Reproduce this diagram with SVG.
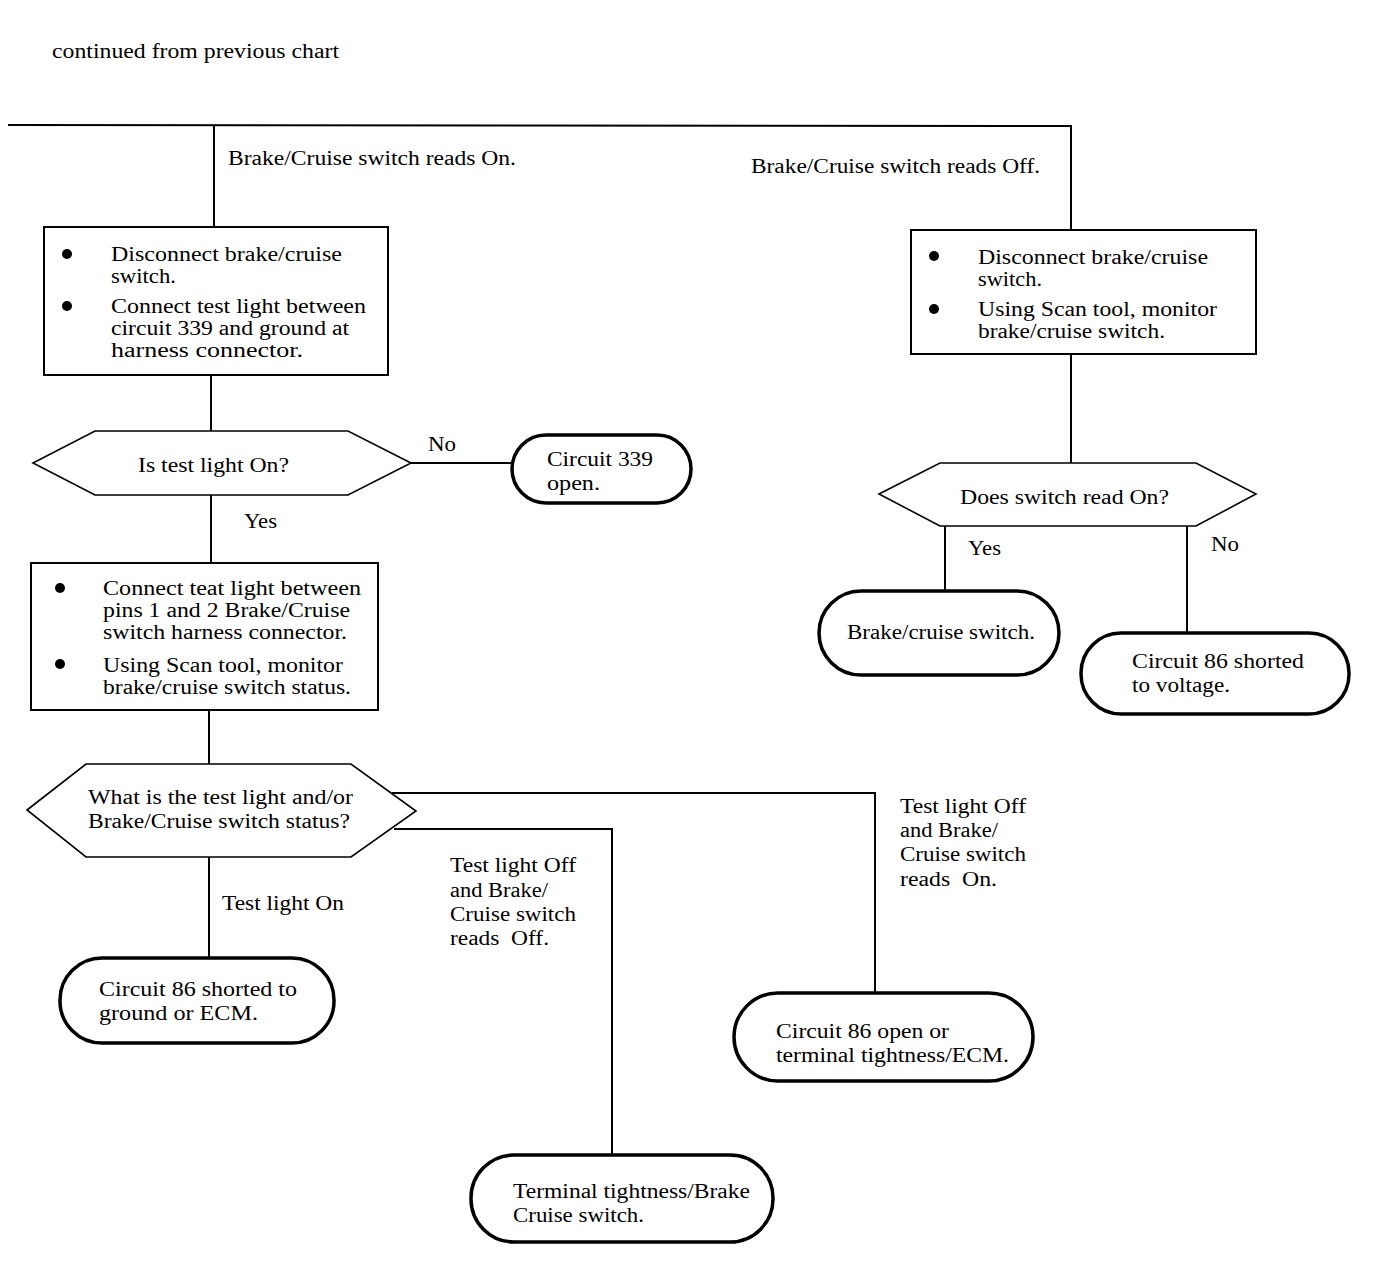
<svg xmlns="http://www.w3.org/2000/svg" width="1376" height="1276" viewBox="0 0 1376 1276">
<style>
text{font-family:"Liberation Serif","Times New Roman",serif;font-size:20px;fill:#000}
.box{fill:#fff;stroke:#000;stroke-width:2}
.dia{fill:#fff;stroke:#000;stroke-width:1.6}
.term{fill:#fff;stroke:#000;stroke-width:3.5}
.con{fill:none;stroke:#000;stroke-width:2}
.bul{fill:#000}
</style>
<rect width="1376" height="1276" fill="#fff"/>
<text x="52" y="58" textLength="287" lengthAdjust="spacingAndGlyphs">continued from previous chart</text>
<g id="connectors">
<polyline class="con" points="8,125 1071,126 1071,230"/>
<line class="con" x1="214" y1="126" x2="214" y2="227"/>
<line class="con" x1="211" y1="375" x2="211" y2="431"/>
<line class="con" x1="411" y1="463" x2="512" y2="463"/>
<line class="con" x1="211" y1="495" x2="211" y2="563"/>
<line class="con" x1="209" y1="710" x2="209" y2="764"/>
<line class="con" x1="209" y1="857" x2="209" y2="958"/>
<polyline class="con" points="392,793 875,793 875,993"/>
<polyline class="con" points="394,829 612,829 612,1155"/>
<line class="con" x1="1071" y1="354" x2="1071" y2="463"/>
<line class="con" x1="945" y1="526" x2="945" y2="591"/>
<line class="con" x1="1187" y1="526" x2="1187" y2="633"/>
<text x="228" y="165" textLength="288" lengthAdjust="spacingAndGlyphs">Brake/Cruise switch reads On.</text>
<text x="751" y="173" textLength="289" lengthAdjust="spacingAndGlyphs">Brake/Cruise switch reads Off.</text>
<text x="428" y="451" textLength="28" lengthAdjust="spacingAndGlyphs">No</text>
<text x="244" y="528" textLength="33" lengthAdjust="spacingAndGlyphs">Yes</text>
<text x="222" y="910" textLength="122" lengthAdjust="spacingAndGlyphs">Test light On</text>
<text x="450" y="872" textLength="126" lengthAdjust="spacingAndGlyphs">Test light Off</text>
<text x="450" y="897" textLength="98" lengthAdjust="spacingAndGlyphs">and Brake/</text>
<text x="450" y="921" textLength="126" lengthAdjust="spacingAndGlyphs">Cruise switch</text>
<text x="450" y="945" textLength="99" lengthAdjust="spacingAndGlyphs" xml:space="preserve">reads  Off.</text>
<text x="900" y="813" textLength="126" lengthAdjust="spacingAndGlyphs">Test light Off</text>
<text x="900" y="837" textLength="98" lengthAdjust="spacingAndGlyphs">and Brake/</text>
<text x="900" y="861" textLength="126" lengthAdjust="spacingAndGlyphs">Cruise switch</text>
<text x="900" y="886" textLength="97" lengthAdjust="spacingAndGlyphs" xml:space="preserve">reads  On.</text>
<text x="968" y="555" textLength="33" lengthAdjust="spacingAndGlyphs">Yes</text>
<text x="1211" y="551" textLength="28" lengthAdjust="spacingAndGlyphs">No</text>
</g>
<g id="box1">
<rect class="box" x="44" y="227" width="344" height="148"/>
<circle class="bul" cx="67" cy="254" r="5"/>
<circle class="bul" cx="67" cy="306" r="5"/>
<text x="111" y="261" textLength="231" lengthAdjust="spacingAndGlyphs">Disconnect brake/cruise</text>
<text x="111" y="283" textLength="65" lengthAdjust="spacingAndGlyphs">switch.</text>
<text x="111" y="313" textLength="255" lengthAdjust="spacingAndGlyphs">Connect test light between</text>
<text x="111" y="335" textLength="238" lengthAdjust="spacingAndGlyphs">circuit 339 and ground at</text>
<text x="111" y="357" textLength="192" lengthAdjust="spacingAndGlyphs">harness connector.</text>
</g>
<g id="decision1">
<polygon class="dia" points="33,463 95,431 348,431 411,463 348,495 95,495"/>
<text x="138" y="472" textLength="151" lengthAdjust="spacingAndGlyphs">Is test light On?</text>
</g>
<g id="term-circuit339">
<rect class="term" x="512" y="435" width="179" height="68" rx="34" ry="34"/>
<text x="547" y="466" textLength="106" lengthAdjust="spacingAndGlyphs">Circuit 339</text>
<text x="547" y="490" textLength="53" lengthAdjust="spacingAndGlyphs">open.</text>
</g>
<g id="box2">
<rect class="box" x="31" y="563" width="347" height="147"/>
<circle class="bul" cx="60" cy="588" r="5"/>
<circle class="bul" cx="60" cy="664" r="5"/>
<text x="103" y="595" textLength="258" lengthAdjust="spacingAndGlyphs">Connect teat light between</text>
<text x="103" y="617" textLength="247" lengthAdjust="spacingAndGlyphs">pins 1 and 2 Brake/Cruise</text>
<text x="103" y="639" textLength="244" lengthAdjust="spacingAndGlyphs">switch harness connector.</text>
<text x="103" y="672" textLength="240" lengthAdjust="spacingAndGlyphs">Using Scan tool, monitor</text>
<text x="103" y="694" textLength="248" lengthAdjust="spacingAndGlyphs">brake/cruise switch status.</text>
</g>
<g id="decision2">
<polygon class="dia" points="27,810 86,764 351,764 416,811 351,857 86,857"/>
<text x="88" y="804" textLength="265" lengthAdjust="spacingAndGlyphs">What is the test light and/or</text>
<text x="88" y="828" textLength="262" lengthAdjust="spacingAndGlyphs">Brake/Cruise switch status?</text>
</g>
<g id="term-ground">
<rect class="term" x="60" y="958" width="274" height="85" rx="42" ry="42"/>
<text x="99" y="996" textLength="198" lengthAdjust="spacingAndGlyphs">Circuit 86 shorted to</text>
<text x="99" y="1020" textLength="159" lengthAdjust="spacingAndGlyphs">ground or ECM.</text>
</g>
<g id="term-open">
<rect class="term" x="734" y="993" width="299" height="88" rx="44" ry="44"/>
<text x="776" y="1038" textLength="173" lengthAdjust="spacingAndGlyphs">Circuit 86 open or</text>
<text x="776" y="1062" textLength="233" lengthAdjust="spacingAndGlyphs">terminal tightness/ECM.</text>
</g>
<g id="term-terminal">
<rect class="term" x="471" y="1155" width="302" height="87" rx="43" ry="43"/>
<text x="513" y="1198" textLength="237" lengthAdjust="spacingAndGlyphs">Terminal tightness/Brake</text>
<text x="513" y="1222" textLength="131" lengthAdjust="spacingAndGlyphs">Cruise switch.</text>
</g>
<g id="box3">
<rect class="box" x="911" y="230" width="345" height="124"/>
<circle class="bul" cx="934" cy="256" r="5"/>
<circle class="bul" cx="934" cy="309" r="5"/>
<text x="978" y="264" textLength="230" lengthAdjust="spacingAndGlyphs">Disconnect brake/cruise</text>
<text x="978" y="286" textLength="64" lengthAdjust="spacingAndGlyphs">switch.</text>
<text x="978" y="316" textLength="239" lengthAdjust="spacingAndGlyphs">Using Scan tool, monitor</text>
<text x="978" y="338" textLength="187" lengthAdjust="spacingAndGlyphs">brake/cruise switch.</text>
</g>
<g id="decision3">
<polygon class="dia" points="879,494 940,463 1196,463 1256,494 1196,526 940,526"/>
<text x="960" y="504" textLength="209" lengthAdjust="spacingAndGlyphs">Does switch read On?</text>
</g>
<g id="term-switch">
<rect class="term" x="819" y="591" width="240" height="84" rx="42" ry="42"/>
<text x="847" y="639" textLength="188" lengthAdjust="spacingAndGlyphs">Brake/cruise switch.</text>
</g>
<g id="term-voltage">
<rect class="term" x="1081" y="633" width="268" height="81" rx="40" ry="40"/>
<text x="1132" y="668" textLength="172" lengthAdjust="spacingAndGlyphs">Circuit 86 shorted</text>
<text x="1132" y="692" textLength="98" lengthAdjust="spacingAndGlyphs">to voltage.</text>
</g>
</svg>
